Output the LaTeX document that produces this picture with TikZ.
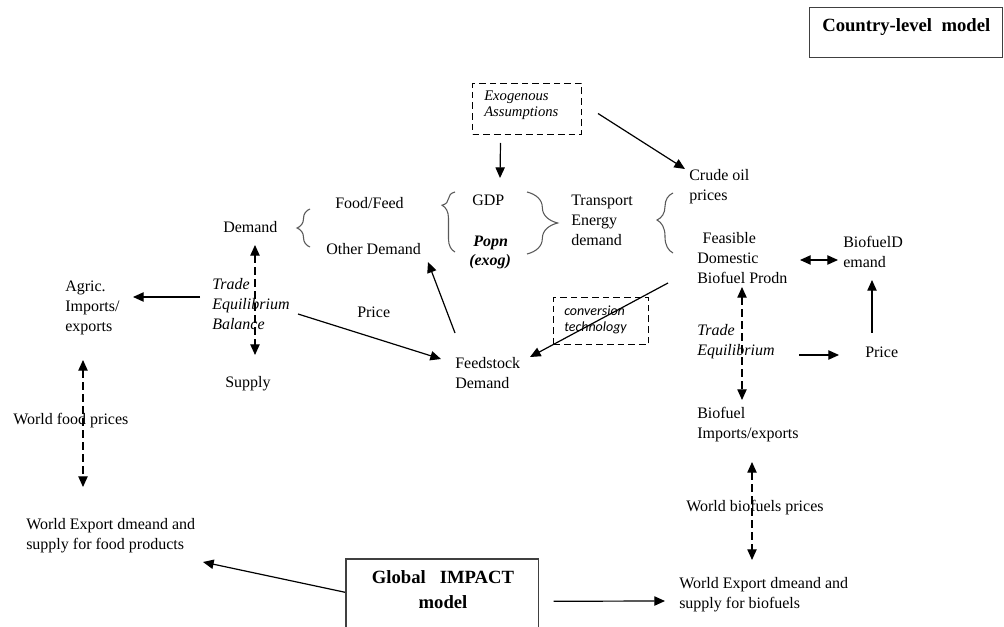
\documentclass[tikz,border=0pt]{standalone}
\usepackage{fontspec}
\setmainfont{Liberation Serif}[ItalicFont={Liberation Serif Italic},BoldFont={Liberation Serif Bold},BoldItalicFont={Liberation Serif Bold Italic}]
\newfontfamily\carlito{Carlito}
\usetikzlibrary{arrows.meta,calc,decorations.pathreplacing}
\begin{document}
\begin{tikzpicture}[x=0.75pt,y=-0.75pt,
  txt/.style={inner sep=0pt,anchor=west,align=left,font=\fontsize{12}{15}\selectfont},
  ittxt/.style={txt,font=\fontsize{12}{15}\selectfont\itshape},
  arr/.style={-{Triangle[length=8pt,width=7pt]},line width=0.9pt},
  darr/.style={{Triangle[length=8pt,width=7pt]}-{Triangle[length=8pt,width=7pt]},line width=0.9pt},
  dashedline/.style={dash pattern=on 6pt off 3pt},
  dbox/.style={draw,line width=0.75pt,dash pattern=on 5pt off 3pt,inner sep=0pt,anchor=north west},
  sbox/.style={draw=black!75,line width=1.1pt,inner sep=0pt,anchor=north west},
  brc/.style={decorate,draw=black!65,line width=0.8pt}
]
\useasboundingbox (0,0) rectangle (1004,627);

% boxes
\node[sbox,minimum width=144.75pt,minimum height=37.5pt] (country) at (809,7) {};
\node[txt,font=\fontsize{14}{16}\selectfont\bfseries] (countrytext) at (822,27) {Country-level\ \ model};

\node[dbox,minimum width=81.75pt,minimum height=38.25pt] (exo) at (472,83) {};
\node[txt,font=\fontsize{11}{12}\selectfont\itshape] (exotext) at (484,105) {Exogenous\\Assumptions};

\node[dbox,minimum width=71.25pt,minimum height=35.25pt] (conv) at (553,297) {};
\node[txt,font=\carlito\fontsize{10.5}{12}\selectfont\itshape] (convtext) at (564,320) {conversion\\technology};

\node[inner sep=0pt,anchor=north west,minimum width=144pt,minimum height=52.5pt] (global) at (346,559) {};
\draw[draw=black!75,line width=1.1pt] (global.south west) -- (global.north west) -- (global.north east) -- (global.south east);
\node[inner sep=0pt,align=center,font=\fontsize{14}{18.75}\selectfont\bfseries] (globaltext) at (443,590) {Global\ \ \ IMPACT\\model};

% text nodes
\node[txt] (demand) at (223,227) {Demand};
\node[txt] (foodfeed) at (335,203) {Food/Feed};
\node[txt] (other) at (326,249) {Other Demand};
\node[txt] (gdp) at (472,200) {GDP};
\node[txt,font=\fontsize{12}{14.25}\selectfont\bfseries\itshape] (popn) at (469,252) {\hspace{3pt}Popn\\(exog)};
\node[txt] (transport) at (571,220) {Transport\\Energy\\demand};
\node[txt] (crude) at (689,187) {Crude oil\\prices};
\node[txt] (feasible) at (697,258) {\hspace{4pt}Feasible\\Domestic\\Biofuel Prodn};
\node[txt] (biofueld) at (843,252) {BiofuelD\\emand};
\node[txt] (agric) at (65,308) {Agric.\\Imports/\\exports};
\node[ittxt] (tradeB) at (212,304) {Trade\\Equilibrium\\Balance};
\node[txt] (supply) at (225,384) {Supply};
\node[txt] (price1) at (357,312) {Price};
\node[txt] (feedstock) at (455,373) {Feedstock\\Demand};
\node[ittxt] (tradeE) at (697,342) {Trade\\Equilibrium};
\node[txt] (price2) at (865,352) {Price};
\node[txt] (bioimp) at (697,425) {Biofuel\\Imports/exports};
\node[txt] (wbp) at (686,508) {World biofuels prices};
\node[txt] (wexpb) at (679,595) {World Export dmeand and\\supply for biofuels};
\node[txt] (wfp) at (13,421) {World food prices};
\node[txt] (wexpf) at (26,536) {World Export dmeand and\\supply for food products};

% braces
\draw[brc,decoration={brace,amplitude=9.75pt}] (310,247) -- (310,209);
\draw[brc,decoration={brace,amplitude=9.75pt,aspect=0.78}] (455,252) -- (455,192);
\draw[brc,decoration={brace,amplitude=23pt,aspect=0.5}] (527,192) -- (527,254);
\draw[brc,decoration={brace,amplitude=12pt,aspect=0.55}] (673,253) -- (673,193);

% connectors
\draw[arr] ($(exo.south)+(-26.5,8)$) -- ($(gdp.west)+(28,-22)$);
\draw[arr] ($(exo.east)+(16,4.5)$) -- ($(crude.west)+(-4,-18)$);
\draw[arr] ($(feasible.west)+(-29,25)$) -- ($(feedstock.west)+(75,-16)$);
\draw[darr] ($(feasible.west)+(103,2)$) -- ($(biofueld.west)+(-5,8)$);
\draw[arr] ($(price2.west)+(7,-19)$) -- ($(biofueld.west)+(29,28)$);
\draw[darr,dashedline] ($(feasible.west)+(45,29)$) -- ($(bioimp.west)+(45,-25)$);
\draw[arr] ($(tradeE.west)+(102,13)$) -- ($(price2.west)+(-26,3)$);
\draw[darr,dashedline] ($(bioimp.west)+(55,37)$) -- ($(wexpb.west)+(73,-35)$);
\draw[arr] ($(global.east)+(15,7)$) -- ($(wexpb.west)+(-14,6)$);
\draw[arr] ($(global.west)+(-1,-2)$) -- ($(wexpf.west)+(177,26)$);
\draw[darr,dashedline] ($(agric.west)+(18,52)$) -- ($(wexpf.west)+(57,-49)$);
\draw[arr] ($(tradeB.west)+(-12,-7)$) -- ($(agric.west)+(68,-11)$);
\draw[darr,dashedline] ($(demand.west)+(32,18)$) -- ($(supply.west)+(30,-29)$);
\draw[arr] ($(tradeB.west)+(86,10)$) -- ($(feedstock.west)+(-14,-14)$);
\draw[arr] ($(feedstock.west)+(0,-40)$) -- ($(other.west)+(102,13)$);
\end{tikzpicture}
\end{document}
